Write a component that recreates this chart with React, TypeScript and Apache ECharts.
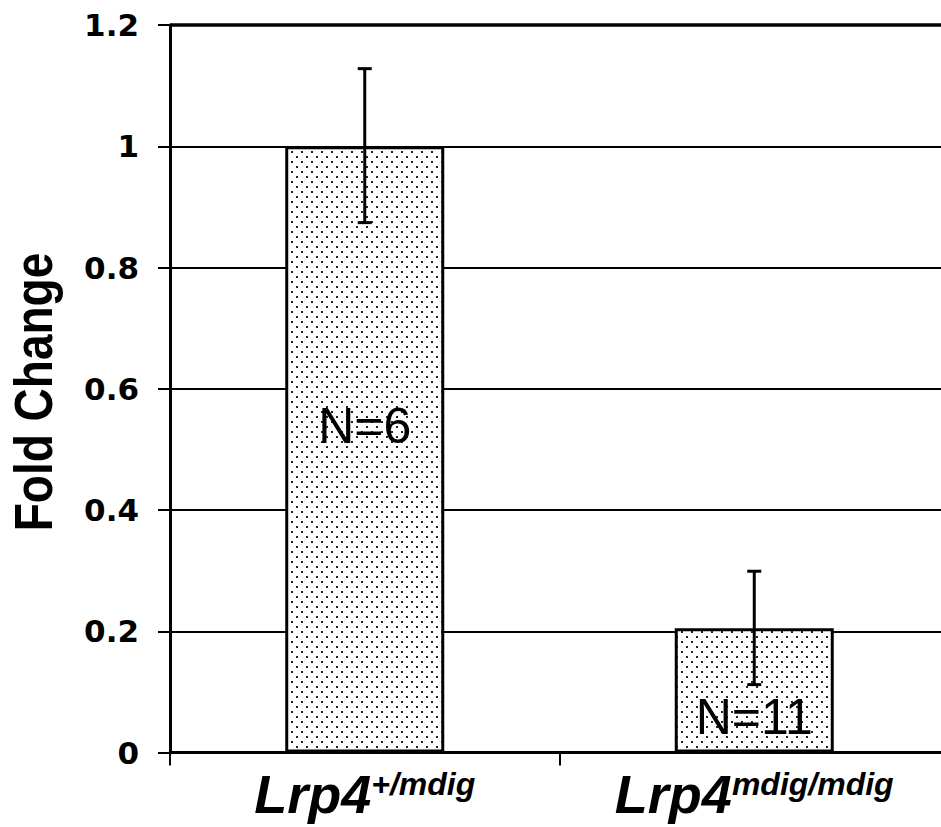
import React, { useEffect, useRef } from 'react';
import * as echarts from 'echarts';

const categories = ['Lrp4+/mdig', 'Lrp4mdig/mdig'];
const labelMain = ['Lrp4', 'Lrp4'];
const labelSup = ['+/mdig', 'mdig/mdig'];
const foldChange = [1.0, 0.205];
const errLow = [0.874, 0.112];
const errHigh = [1.128, 0.299];
const sampleN = ['N=6', 'N=11'];
const yTickValues = [0, 0.2, 0.4, 0.6, 0.8, 1, 1.2];
const yTickLabels = ['0', '0.2', '0.4', '0.6', '0.8', '1', '1.2'];
const yTitle = 'Fold Change';

const labelOffsets = [[0, -23], [0, 27]];

function makePattern() {
  const c = document.createElement('canvas');
  c.width = 10;
  c.height = 10;
  const ctx = c.getContext('2d')!;
  ctx.fillStyle = '#ffffff';
  ctx.fillRect(0, 0, 10, 10);
  ctx.fillStyle = '#222222';
  ctx.fillRect(1, 1, 2, 2);
  ctx.fillRect(6, 6, 2, 2);
  return c;
}

export default function App() {
  const ref = useRef<HTMLDivElement>(null);
  useEffect(() => {
    if (!ref.current) return;
    const chart = echarts.init(ref.current, undefined, { renderer: 'svg' });
    const pattern: any = { image: makePattern(), repeat: 'repeat', imageWidth: 10, imageHeight: 10 };
    const option: any = {
      animation: false,
      backgroundColor: '#ffffff',
      grid: { left: 170, top: 25, width: 779, height: 727.5 },
      xAxis: {
        type: 'category',
        data: categories,
        boundaryGap: true,
        axisLine: { show: true, lineStyle: { color: '#000', width: 3 } },
        axisTick: { show: true, length: 13, lineStyle: { color: '#000', width: 2 } },
        splitLine: { show: false },
        axisLabel: {
          margin: 15,
          interval: 0,
          formatter: (_v: string, i: number) => `{a|${labelMain[i]}}{b|${labelSup[i]}}`,
          rich: {
            a: { fontSize: 54, fontWeight: 'bold', fontStyle: 'italic', fontFamily: 'Liberation Sans', color: '#000', lineHeight: 52 },
            b: { fontSize: 32, fontWeight: 'bold', fontStyle: 'italic', fontFamily: 'Liberation Sans', color: '#000', lineHeight: 28, verticalAlign: 'top' },
          },
        },
      },
      yAxis: {
        type: 'value',
        min: 0,
        max: 1.2,
        interval: 0.2,
        axisLine: { show: true, lineStyle: { color: '#000', width: 3 } },
        axisTick: { show: true, length: 12, lineStyle: { color: '#000', width: 2 } },
        splitLine: { show: true, lineStyle: { color: '#000', width: 2 } },
        axisLabel: {
          margin: 31,
          fontSize: 31,
          fontWeight: 'bold',
          fontFamily: 'DejaVu Sans',
          color: '#000',
          formatter: (v: number) => {
            const idx = yTickValues.findIndex((t) => Math.abs(t - v) < 1e-6);
            return idx >= 0 ? yTickLabels[idx] : '';
          },
        },
      },
      graphic: [
        {
          type: 'text',
          x: 34,
          y: 392,
          rotation: Math.PI / 2,
          scaleY: 1.15,
          style: {
            text: yTitle,
            fontSize: 46,
            fontWeight: 'bold',
            fontFamily: 'Liberation Sans',
            fill: '#000',
            align: 'center',
            verticalAlign: 'middle',
          },
        },
      ],
      series: [
        {
          type: 'bar',
          barWidth: 159,
          data: foldChange.map((v, i) => ({
            value: v,
            label: {
              show: true,
              position: 'inside',
              offset: labelOffsets[i],
              formatter: sampleN[i],
              fontSize: 50,
              fontFamily: 'Liberation Sans',
              color: '#000',
            },
          })),
          itemStyle: { color: pattern, borderColor: '#000', borderWidth: 3 },
          markLine: {
            silent: true,
            symbol: 'none',
            label: { show: false },
            lineStyle: { color: '#000', width: 3.5, type: 'solid' },
            data: [{ yAxis: 1.2 }],
          },
          z: 3,
        },
        {
          type: 'custom',
          z: 5,
          data: foldChange.map((_v, i) => [i, errLow[i], errHigh[i]]),
          renderItem: (_params: any, api: any) => {
            const i = api.value(0);
            const lo = api.coord([i, api.value(1)]);
            const hi = api.coord([i, api.value(2)]);
            const hw = 7;
            const st = { stroke: '#000', lineWidth: 3 };
            return {
              type: 'group',
              children: [
                { type: 'line', shape: { x1: hi[0], y1: hi[1], x2: lo[0], y2: lo[1] }, style: st },
                { type: 'line', shape: { x1: hi[0] - hw, y1: hi[1], x2: hi[0] + hw, y2: hi[1] }, style: st },
                { type: 'line', shape: { x1: lo[0] - hw, y1: lo[1], x2: lo[0] + hw, y2: lo[1] }, style: st },
              ],
            };
          },
        },
      ],
    };
    chart.setOption(option);
    return () => chart.dispose();
  }, []);
  return (
    <div style={{ position: 'fixed', left: 0, top: 0, width: 941, height: 827, overflow: 'hidden' }}>
      <div ref={ref} style={{ width: 960, height: 827 }} />
    </div>
  );
}
